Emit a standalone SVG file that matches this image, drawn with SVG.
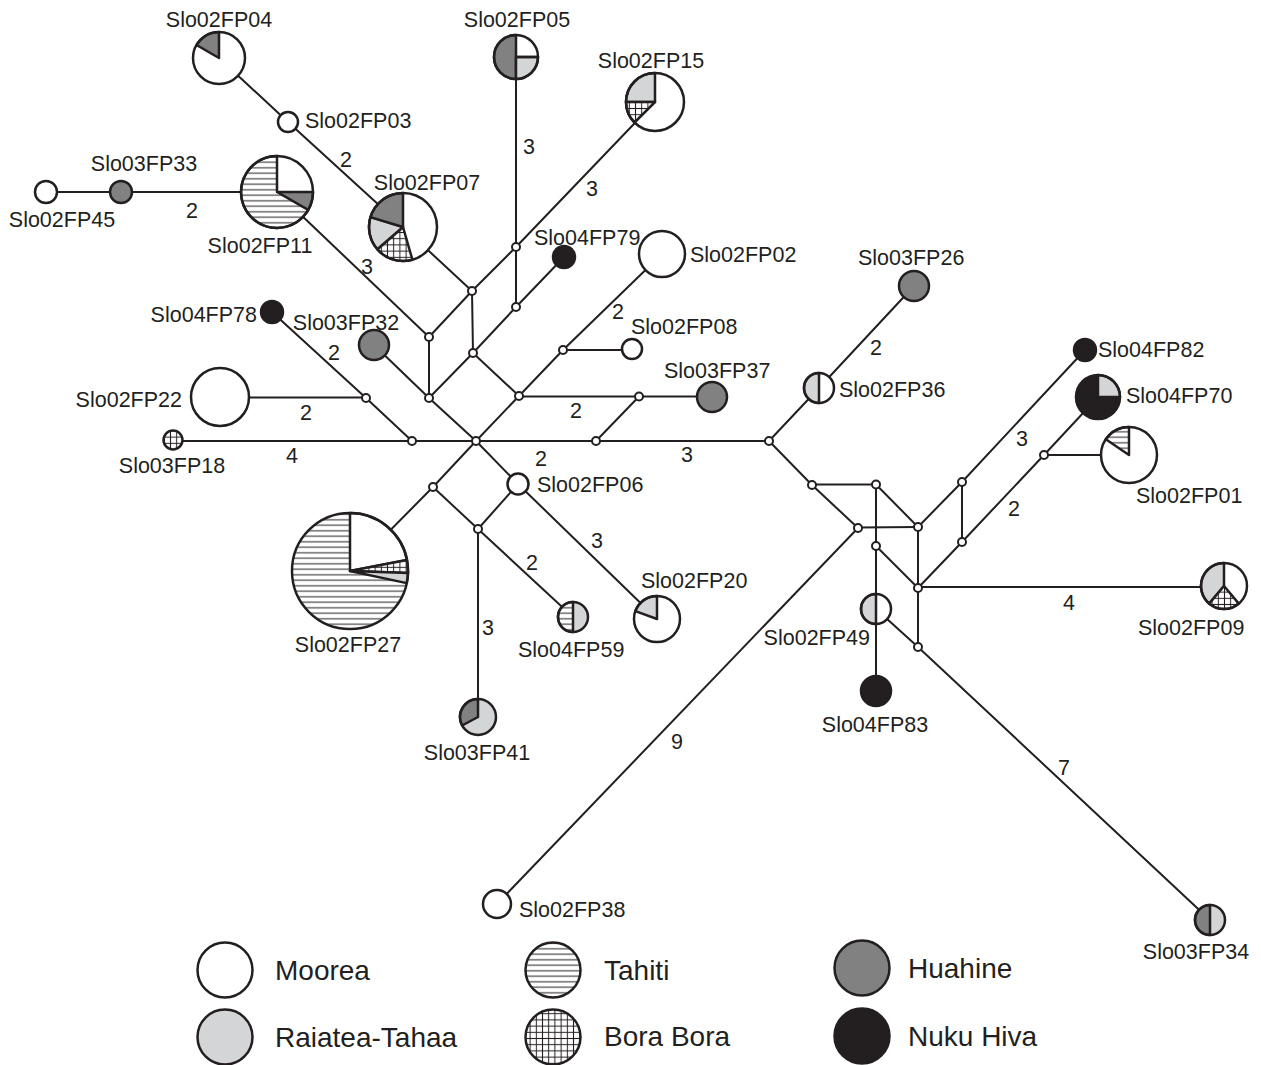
<svg xmlns="http://www.w3.org/2000/svg" width="1261" height="1065" viewBox="0 0 1261 1065">
<defs>
<pattern id="hz" patternUnits="userSpaceOnUse" width="6" height="5.5"><rect width="6" height="5.5" fill="#fff"/><line x1="0" y1="2.75" x2="6" y2="2.75" stroke="#231f20" stroke-width="1"/></pattern>
<pattern id="xh" patternUnits="userSpaceOnUse" width="6.2" height="6.2"><rect width="6.2" height="6.2" fill="#fff"/><line x1="0" y1="3.1" x2="6.2" y2="3.1" stroke="#231f20" stroke-width="1"/><line x1="3.1" y1="0" x2="3.1" y2="6.2" stroke="#231f20" stroke-width="1"/></pattern>
<style>
.l{stroke:#231f20;stroke-width:2;fill:none}
.o{fill:none;stroke:#231f20;stroke-width:2.5}
.w{stroke:#231f20;stroke-width:2.5;stroke-linejoin:round}
.mv{fill:#fff;stroke:#231f20;stroke-width:2}
.mo{fill:#fff}
.ta{fill:url(#hz)}
.bb{fill:url(#xh)}
.hu{fill:#818181}
.rt{fill:#d4d5d6}
.nh{fill:#231f20}
text{font-family:"Liberation Sans",Arial,Helvetica,sans-serif;fill:#231f20}
.lb{font-size:21.5px}
.nm{font-size:21.5px;text-anchor:middle}
.lg{font-size:28px}
</style>
</defs>
<rect width="1261" height="1065" fill="#fff"/>
<g id="connectors">
<polyline class="l" points="219,58 288,122 403,227 472,291"/>
<polyline class="l" points="655,102 516,247 472,291 429,337"/>
<line class="l" x1="277" y1="192" x2="429" y2="337"/>
<line class="l" x1="46" y1="192" x2="277" y2="192"/>
<line class="l" x1="429" y1="337" x2="429" y2="398"/>
<line class="l" x1="472" y1="291" x2="473" y2="353"/>
<polyline class="l" points="564,257 516,307 473,353 429,398"/>
<line class="l" x1="516" y1="57" x2="516" y2="307"/>
<polyline class="l" points="374,345 429,398 476,441"/>
<line class="l" x1="473" y1="353" x2="519" y2="396"/>
<polyline class="l" points="476,441 519,396 563,350 662,254"/>
<line class="l" x1="563" y1="350" x2="632" y2="350"/>
<line class="l" x1="519" y1="396.5" x2="712" y2="396.5"/>
<line class="l" x1="596" y1="441" x2="639" y2="396.5"/>
<polyline class="l" points="272,312 366,398 412,441"/>
<line class="l" x1="220" y1="397.5" x2="366" y2="397.5"/>
<line class="l" x1="173" y1="441" x2="769" y2="441"/>
<polyline class="l" points="476,441 433,487 350,571"/>
<polyline class="l" points="476,441 518,484 657,619"/>
<line class="l" x1="433" y1="487" x2="478" y2="529"/>
<line class="l" x1="518" y1="484" x2="478" y2="529"/>
<line class="l" x1="478" y1="529" x2="573" y2="617"/>
<line class="l" x1="478" y1="529" x2="478" y2="717"/>
<polyline class="l" points="769,441 819,388 914,286"/>
<polyline class="l" points="769,441 812,485 858,528"/>
<line class="l" x1="497" y1="904" x2="858" y2="528"/>
<line class="l" x1="812" y1="484.5" x2="876" y2="484.5"/>
<line class="l" x1="876" y1="484.5" x2="876" y2="691"/>
<line class="l" x1="876" y1="484.5" x2="918" y2="527"/>
<line class="l" x1="858" y1="527.5" x2="918" y2="527"/>
<polyline class="l" points="918,527 962,482 1085,350"/>
<line class="l" x1="962" y1="482" x2="962" y2="542"/>
<line class="l" x1="918" y1="527" x2="918" y2="647"/>
<line class="l" x1="876" y1="546" x2="918" y2="588"/>
<polyline class="l" points="918,588 962,542 1044,455 1098,397"/>
<line class="l" x1="1044" y1="455" x2="1129" y2="455"/>
<line class="l" x1="918" y1="587" x2="1224" y2="587"/>
<polyline class="l" points="876,609 918,647 1210,920"/>
<g>
<text class="nm" x="346" y="167">2</text>
<text class="nm" x="192" y="218">2</text>
<text class="nm" x="367" y="274">3</text>
<text class="nm" x="529" y="154">3</text>
<text class="nm" x="592" y="196">3</text>
<text class="nm" x="618" y="319">2</text>
<text class="nm" x="334" y="360">2</text>
<text class="nm" x="306" y="420">2</text>
<text class="nm" x="292" y="463">4</text>
<text class="nm" x="576" y="418">2</text>
<text class="nm" x="541" y="466">2</text>
<text class="nm" x="687" y="462">3</text>
<text class="nm" x="876" y="355">2</text>
<text class="nm" x="1022" y="446">3</text>
<text class="nm" x="1014" y="516">2</text>
<text class="nm" x="1069" y="610">4</text>
<text class="nm" x="597" y="548">3</text>
<text class="nm" x="532" y="570">2</text>
<text class="nm" x="488" y="635">3</text>
<text class="nm" x="677" y="749">9</text>
<text class="nm" x="1064" y="775">7</text>
</g>
</g>
<g id="median-vectors">
<circle class="mv" cx="472" cy="291" r="4"/>
<circle class="mv" cx="429" cy="337" r="4"/>
<circle class="mv" cx="516" cy="307" r="4"/>
<circle class="mv" cx="473" cy="353" r="4"/>
<circle class="mv" cx="563" cy="350" r="4"/>
<circle class="mv" cx="366" cy="398" r="4"/>
<circle class="mv" cx="429" cy="398" r="4"/>
<circle class="mv" cx="519" cy="396" r="4"/>
<circle class="mv" cx="639" cy="396.5" r="4"/>
<circle class="mv" cx="412" cy="441" r="4"/>
<circle class="mv" cx="476" cy="441" r="4"/>
<circle class="mv" cx="596" cy="441" r="4"/>
<circle class="mv" cx="516" cy="247" r="4"/>
<circle class="mv" cx="433" cy="487" r="4"/>
<circle class="mv" cx="478" cy="529" r="4"/>
<circle class="mv" cx="769" cy="441" r="4"/>
<circle class="mv" cx="812" cy="485" r="4"/>
<circle class="mv" cx="876" cy="484.5" r="4"/>
<circle class="mv" cx="962" cy="482" r="4"/>
<circle class="mv" cx="1044" cy="455" r="4"/>
<circle class="mv" cx="858" cy="528" r="4"/>
<circle class="mv" cx="918" cy="527" r="4"/>
<circle class="mv" cx="876" cy="546" r="4"/>
<circle class="mv" cx="962" cy="542" r="4"/>
<circle class="mv" cx="918" cy="588" r="4"/>
<circle class="mv" cx="918" cy="647" r="4"/>
</g>
<g id="Slo02FP04"><circle class="mo" cx="219" cy="58" r="26"/><path class="w hu" d="M219,58 L196.5,45 A26,26 0 0 1 219,32 Z"/><circle class="o" cx="219" cy="58" r="26"/><text class="lb" x="219" y="27" text-anchor="middle">Slo02FP04</text></g>
<g id="Slo02FP03"><circle class="mo" cx="288" cy="122" r="10"/><circle class="o" cx="288" cy="122" r="10"/><text class="lb" x="305" y="128">Slo02FP03</text></g>
<g id="Slo02FP05"><circle class="mo" cx="516" cy="57" r="22"/><path class="w hu" d="M516,57 L516,79 A22,22 0 0 1 516,35 Z"/><path class="w rt" d="M516,57 L538,57 A22,22 0 0 1 516,79 Z"/><line class="o" x1="516" y1="57" x2="538" y2="57"/><circle class="o" cx="516" cy="57" r="22"/><text class="lb" x="517" y="27" text-anchor="middle">Slo02FP05</text></g>
<g id="Slo02FP15"><circle class="mo" cx="655" cy="102" r="29"/><path class="w rt" d="M655,102 L626,102 A29,29 0 0 1 655,73 Z"/><path class="w bb" d="M655,102 L634.5,122.5 A29,29 0 0 1 626,102 Z"/><circle class="o" cx="655" cy="102" r="29"/><text class="lb" x="651" y="68" text-anchor="middle">Slo02FP15</text></g>
<g id="Slo02FP07"><circle class="mo" cx="403" cy="227" r="34"/><path class="w bb" d="M403,227 L412.4,259.7 A34,34 0 0 1 377.3,249.3 Z"/><path class="w rt" d="M403,227 L377.3,249.3 A34,34 0 0 1 370.5,217.1 Z"/><path class="w hu" d="M403,227 L370.5,217.1 A34,34 0 0 1 403,193 Z"/><circle class="o" cx="403" cy="227" r="34"/><text class="lb" x="427" y="190" text-anchor="middle">Slo02FP07</text></g>
<g id="Slo02FP11"><circle class="mo" cx="277" cy="192" r="36"/><path class="w hu" d="M277,192 L313,192 A36,36 0 0 1 308.2,210 Z"/><path class="w ta" d="M277,192 L308.2,210 A36,36 0 1 1 277,156 Z"/><circle class="o" cx="277" cy="192" r="36"/><text class="lb" x="260" y="253" text-anchor="middle">Slo02FP11</text></g>
<g id="Slo03FP33"><circle class="hu" cx="121" cy="192" r="11"/><circle class="o" cx="121" cy="192" r="11"/><text class="lb" x="144" y="171" text-anchor="middle">Slo03FP33</text></g>
<g id="Slo02FP45"><circle class="mo" cx="46" cy="192" r="11"/><circle class="o" cx="46" cy="192" r="11"/><text class="lb" x="62" y="227" text-anchor="middle">Slo02FP45</text></g>
<g id="Slo04FP78"><circle class="nh" cx="272" cy="312" r="11"/><circle class="o" cx="272" cy="312" r="11"/><text class="lb" x="257" y="322" text-anchor="end">Slo04FP78</text></g>
<g id="Slo03FP32"><circle class="hu" cx="374" cy="345" r="15"/><circle class="o" cx="374" cy="345" r="15"/><text class="lb" x="346" y="330" text-anchor="middle">Slo03FP32</text></g>
<g id="Slo02FP22"><circle class="mo" cx="220" cy="397" r="29"/><circle class="o" cx="220" cy="397" r="29"/><text class="lb" x="182" y="407" text-anchor="end">Slo02FP22</text></g>
<g id="Slo03FP18"><circle class="bb" cx="173" cy="440" r="9.5"/><circle class="o" cx="173" cy="440" r="9.5"/><text class="lb" x="172" y="473" text-anchor="middle">Slo03FP18</text></g>
<g id="Slo04FP79"><circle class="nh" cx="564" cy="257" r="11"/><circle class="o" cx="564" cy="257" r="11"/><text class="lb" x="534" y="245">Slo04FP79</text></g>
<g id="Slo02FP02"><circle class="mo" cx="662" cy="254" r="23"/><circle class="o" cx="662" cy="254" r="23"/><text class="lb" x="690" y="262">Slo02FP02</text></g>
<g id="Slo02FP08"><circle class="mo" cx="632" cy="349" r="10"/><circle class="o" cx="632" cy="349" r="10"/><text class="lb" x="631" y="334">Slo02FP08</text></g>
<g id="Slo03FP37"><circle class="hu" cx="712" cy="397" r="15"/><circle class="o" cx="712" cy="397" r="15"/><text class="lb" x="664" y="378">Slo03FP37</text></g>
<g id="Slo03FP26"><circle class="hu" cx="914" cy="286" r="15"/><circle class="o" cx="914" cy="286" r="15"/><text class="lb" x="858" y="265">Slo03FP26</text></g>
<g id="Slo02FP36"><circle class="mo" cx="819" cy="388" r="15"/><path class="w rt" d="M819,388 L819,403 A15,15 0 0 1 819,373 Z"/><circle class="o" cx="819" cy="388" r="15"/><text class="lb" x="839" y="397">Slo02FP36</text></g>
<g id="Slo04FP82"><circle class="nh" cx="1085" cy="350" r="11"/><circle class="o" cx="1085" cy="350" r="11"/><text class="lb" x="1098" y="357">Slo04FP82</text></g>
<g id="Slo04FP70"><circle class="nh" cx="1098" cy="397" r="22"/><path class="w rt" d="M1098,397 L1098,375 A22,22 0 0 1 1120,397 Z"/><circle class="o" cx="1098" cy="397" r="22"/><text class="lb" x="1126" y="403">Slo04FP70</text></g>
<g id="Slo02FP01"><circle class="mo" cx="1129" cy="455" r="28"/><path class="w ta" d="M1129,455 L1105.8,439.3 A28,28 0 0 1 1129,427 Z"/><circle class="o" cx="1129" cy="455" r="28"/><text class="lb" x="1136" y="503">Slo02FP01</text></g>
<g id="Slo02FP09"><circle class="mo" cx="1224" cy="586" r="23"/><path class="w rt" d="M1224,586 L1209.2,603.6 A23,23 0 0 1 1224,563 Z"/><path class="w bb" d="M1224,586 L1238.8,603.6 A23,23 0 0 1 1209.2,603.6 Z"/><circle class="o" cx="1224" cy="586" r="23"/><text class="lb" x="1138" y="635">Slo02FP09</text></g>
<g id="Slo02FP49"><circle class="mo" cx="876" cy="609" r="15"/><path class="w rt" d="M876,609 L876,624 A15,15 0 0 1 876,594 Z"/><circle class="o" cx="876" cy="609" r="15"/><text class="lb" x="870" y="645" text-anchor="end">Slo02FP49</text></g>
<g id="Slo04FP83"><circle class="nh" cx="876" cy="691" r="15"/><circle class="o" cx="876" cy="691" r="15"/><text class="lb" x="875" y="732" text-anchor="middle">Slo04FP83</text></g>
<g id="Slo03FP34"><circle class="rt" cx="1210" cy="920" r="15"/><path class="w hu" d="M1210,920 L1210,935 A15,15 0 0 1 1210,905 Z"/><circle class="o" cx="1210" cy="920" r="15"/><text class="lb" x="1196" y="959" text-anchor="middle">Slo03FP34</text></g>
<g id="Slo02FP06"><circle class="mo" cx="518" cy="484" r="10.5"/><circle class="o" cx="518" cy="484" r="10.5"/><text class="lb" x="537" y="492">Slo02FP06</text></g>
<g id="Slo02FP20"><circle class="mo" cx="657" cy="619" r="23"/><path class="w rt" d="M657,619 L635.4,611.1 A23,23 0 0 1 657,596 Z"/><circle class="o" cx="657" cy="619" r="23"/><text class="lb" x="641" y="588">Slo02FP20</text></g>
<g id="Slo04FP59"><circle class="rt" cx="573" cy="617" r="15"/><path class="w ta" d="M573,617 L573,632 A15,15 0 0 1 573,602 Z"/><circle class="o" cx="573" cy="617" r="15"/><text class="lb" x="518" y="657">Slo04FP59</text></g>
<g id="Slo03FP41"><circle class="rt" cx="478" cy="717" r="18"/><path class="w hu" d="M478,717 L462.1,725.5 A18,18 0 0 1 478,699 Z"/><circle class="o" cx="478" cy="717" r="18"/><text class="lb" x="477" y="760" text-anchor="middle">Slo03FP41</text></g>
<g id="Slo02FP27"><circle class="ta" cx="350" cy="571" r="58"/><path class="w mo" d="M350,571 L350,513 A58,58 0 0 1 406.9,559.9 Z"/><path class="w bb" d="M350,571 L406.9,559.9 A58,58 0 0 1 408,573 Z"/><path class="w rt" d="M350,571 L408,573 A58,58 0 0 1 406.7,583.1 Z"/><circle class="o" cx="350" cy="571" r="58"/><text class="lb" x="348" y="652" text-anchor="middle">Slo02FP27</text></g>
<g id="Slo02FP38"><circle class="mo" cx="497" cy="904" r="14"/><circle class="o" cx="497" cy="904" r="14"/><text class="lb" x="519" y="917">Slo02FP38</text></g>
<g id="legend">
<circle class="mo" cx="225" cy="970" r="27.5"/><circle class="o" cx="225" cy="970" r="27.5"/><text class="lg" x="275" y="980">Moorea</text>
<circle class="rt" cx="225" cy="1037" r="27.5"/><circle class="o" cx="225" cy="1037" r="27.5"/><text class="lg" x="275" y="1047">Raiatea-Tahaa</text>
<circle class="ta" cx="553" cy="970" r="27.5"/><circle class="o" cx="553" cy="970" r="27.5"/><text class="lg" x="604" y="980">Tahiti</text>
<circle class="bb" cx="553" cy="1037" r="27.5"/><circle class="o" cx="553" cy="1037" r="27.5"/><text class="lg" x="604" y="1046">Bora Bora</text>
<circle class="hu" cx="862" cy="968" r="27.5"/><circle class="o" cx="862" cy="968" r="27.5"/><text class="lg" x="908" y="978">Huahine</text>
<circle class="nh" cx="862" cy="1036" r="27.5"/><circle class="o" cx="862" cy="1036" r="27.5"/><text class="lg" x="908" y="1046">Nuku Hiva</text>
</g>
</svg>
